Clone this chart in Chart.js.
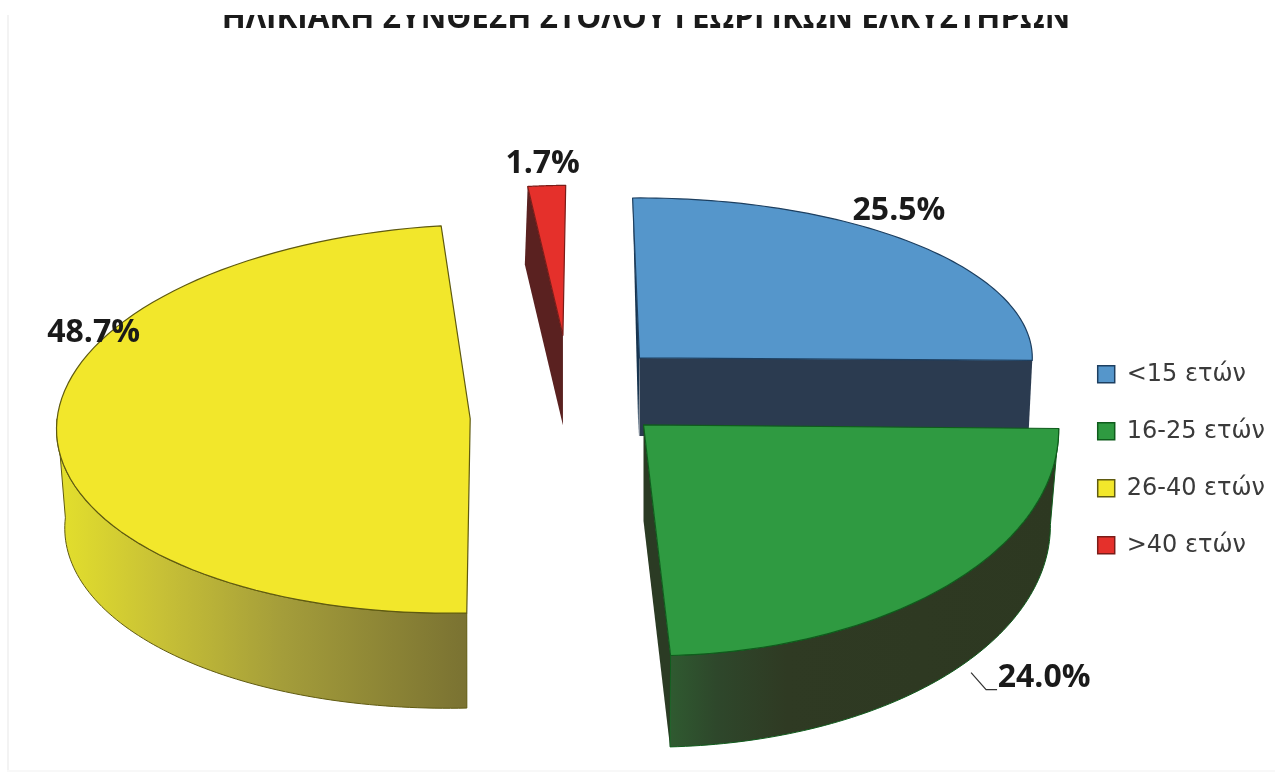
<!DOCTYPE html>
<html lang="el">
<head>
<meta charset="utf-8">
<title>Ηλικιακή σύνθεση στόλου</title>
<style>
  html,body{margin:0;padding:0;background:#fff;overflow:hidden}
  #frame{position:absolute;left:0;top:15px;width:1275px;height:757px;overflow:hidden}
  #frame canvas{position:absolute;left:0;top:-15px}
  #frame:before{content:"";position:absolute;left:7px;top:0;bottom:0;width:2px;background:#f3f3f3}
  #frame:after{content:"";position:absolute;left:7px;right:0;bottom:0;height:2px;background:#f8f8f8}
</style>
</head>
<body>
<div id="frame"><canvas id="pie" width="1275" height="774"></canvas></div>
<script src="https://cdn.jsdelivr.net/npm/chart.js@4"></script>
<script>
const titleText = 'ΗΛΙΚΙΑΚΗ ΣΥΝΘΕΣΗ ΣΤΟΛΟΥ ΓΕΩΡΓΙΚΩΝ ΕΛΚΥΣΤΗΡΩΝ';
const categories = ['<15 ετών','16-25 ετών','26-40 ετών','>40 ετών'];
const shares = [25.5,24.0,48.7,1.7];

const faceColors = ['#5596cb','#2f9a41','#f2e72b','#e5302b'];
const edgeColors = ['#1d3f60','#0f5c1c','#5f5a10','#7a1c18'];

// exploded 3D look: one set per slice, same order as categories
const explode   = [107,111,96,140];
const tilt      = [.395,.57,.48,.37];
const stretch   = [.97,1.025,1.02,.88];
const skew      = [0,.035,-.115,-.06];
const shiftX    = [23,23,25,32];
const shiftY    = [-72,-79,-45,-73];
const depth     = [78,96,99,90];
const wallScale = [.99,.98,.98,1.08];
const drawOrder = [0,3,2,1];
const labelNudge = [[-18,-34],[97,92],[37,-102],[-4,-22]];

function project(el,i,angle,r,scale){
  const off = explode[i], mid = (el.startAngle+el.endAngle)/2;
  const s = scale===undefined ? 1 : scale;
  const ax = el.x+off*Math.cos(mid)+shiftX[i];
  const ay = el.y+off*Math.sin(mid)*tilt[i]+shiftY[i];
  const dx = r*Math.cos(angle)*stretch[i];
  const dy = r*Math.sin(angle)*tilt[i];
  return {x:ax+(dx+skew[i]*dy)*s, y:ay+dy*s};
}

function poly(ctx,pts){
  ctx.beginPath();
  pts.forEach((p,n)=> n ? ctx.lineTo(p.x,p.y) : ctx.moveTo(p.x,p.y));
  ctx.closePath();
}

function arcPts(el,i,a0,a1,r,scale,dy){
  const pts = [], steps = 80;
  for(let n=0;n<=steps;n++){
    const p = project(el,i,a0+(a1-a0)*n/steps,r,scale);
    pts.push({x:p.x,y:p.y+(dy||0)});
  }
  return pts;
}

function outerWall(ctx,el,i,stops){
  const a0 = Math.max(el.startAngle,0), a1 = Math.min(el.endAngle,Math.PI);
  if(a1<=a0) return;
  const r = el.outerRadius;
  const top = arcPts(el,i,a0,a1,r);
  const low = arcPts(el,i,a0,a1,r,wallScale[i],depth[i]);
  const pts = top.concat(low.reverse());
  const xs = pts.map(p=>p.x);
  const g = ctx.createLinearGradient(Math.min(...xs),0,Math.max(...xs),0);
  stops.forEach(s=>g.addColorStop(s[0],s[1]));
  poly(ctx,pts);
  ctx.fillStyle = g;
  ctx.fill();
  ctx.strokeStyle = el.options.borderColor;
  ctx.lineWidth = 1;
  ctx.stroke();
}

function cutFace(ctx,el,i,angle,color){
  const r = el.outerRadius;
  const apex = project(el,i,angle,0);
  const rim = project(el,i,angle,r);
  const rimLow = project(el,i,angle,r,wallScale[i]);
  poly(ctx,[apex,rim,{x:rimLow.x,y:rimLow.y+depth[i]},{x:apex.x,y:apex.y+depth[i]}]);
  ctx.fillStyle = color;
  ctx.fill();
}

const pie3d = {
  id:'pie3d',
  beforeDatasetDraw(chart){
    const ctx = chart.ctx, arcs = chart.getDatasetMeta(0).data;
    ctx.save();
    ctx.lineJoin = 'round';
    drawOrder.forEach(i=>{
      const el = arcs[i];
      if(i===0){
        cutFace(ctx,el,i,el.endAngle,'#2b3b50');
        const apex = project(el,i,el.startAngle,0);
        poly(ctx,[project(el,i,el.startAngle,el.outerRadius),apex,{x:apex.x-1,y:apex.y+depth[i]}]);
        ctx.fillStyle = '#17344f';
        ctx.fill();
      }
      if(i===1){
        cutFace(ctx,el,i,el.endAngle,'#2b3b24');
        outerWall(ctx,el,i,[[0,'#2f5a30'],[.12,'#2e472b'],[.3,'#2f3a23'],[1,'#2d3821']]);
      }
      if(i===2) outerWall(ctx,el,i,[[0,'#e4e02c'],[.25,'#c8c136'],[.55,'#a49d3a'],[1,'#7a7232']]);
      if(i===3) cutFace(ctx,el,i,el.startAngle,'#5a2120');
      const face = [project(el,i,el.startAngle,0)].concat(arcPts(el,i,el.startAngle,el.endAngle,el.outerRadius));
      poly(ctx,face);
      ctx.fillStyle = el.options.backgroundColor;
      ctx.fill();
      ctx.strokeStyle = el.options.borderColor;
      ctx.lineWidth = 1.2;
      ctx.stroke();
    });
    ctx.restore();
    return false;
  },
  afterDatasetsDraw(chart){
    const ctx = chart.ctx, arcs = chart.getDatasetMeta(0).data;
    ctx.save();
    ctx.font = 'bold 32px "Open Sans"';
    ctx.fillStyle = '#1a1a1a';
    ctx.textAlign = 'center';
    ctx.textBaseline = 'middle';
    arcs.forEach((el,i)=>{
      const p = project(el,i,(el.startAngle+el.endAngle)/2,el.outerRadius);
      const lx = p.x+labelNudge[i][0], ly = p.y+labelNudge[i][1];
      ctx.fillText(shares[i].toFixed(1)+'%',lx,ly);
      if(i===1){
        ctx.strokeStyle = '#333';
        ctx.lineWidth = 1.2;
        ctx.beginPath();
        ctx.moveTo(lx-73,ly-5);
        ctx.lineTo(lx-58,ly+12);
        ctx.lineTo(lx-47,ly+12);
        ctx.stroke();
      }
    });
    ctx.restore();
  }
};

new Chart(document.getElementById('pie'),{
  type:'pie',
  data:{
    labels:categories,
    datasets:[{
      data:shares,
      backgroundColor:faceColors,
      borderColor:edgeColors,
      borderWidth:1.5,
      offset:explode
    }]
  },
  options:{
    responsive:false,
    animation:false,
    radius:405,
    rotation:-1,
    layout:{padding:{left:17,right:0,top:0,bottom:0}},
    plugins:{
      title:{
        display:true,
        text:titleText,
        color:'#1a1a1a',
        font:{family:'"Open Sans"',size:31.4,weight:'bold'},
        padding:{top:0,bottom:108}
      },
      legend:{
        position:'right',
        fullSize:false,
        labels:{
          boxWidth:17,boxHeight:17,padding:33,
          color:'#3a3a3a',
          font:{family:'"DejaVu Sans"',size:24}
        }
      },
      tooltip:{enabled:false}
    }
  },
  plugins:[pie3d]
});
</script>
</body>
</html>
